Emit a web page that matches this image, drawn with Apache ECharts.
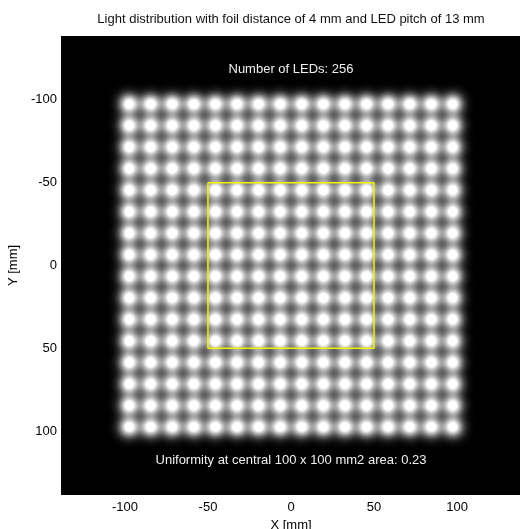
<!DOCTYPE html>
<html>
<head>
<meta charset="utf-8">
<script src="https://cdn.jsdelivr.net/npm/echarts@6/dist/echarts.min.js"></script>
<style>
  html, body { margin: 0; padding: 0; background: #fff; }
  #chart { width: 520px; height: 529px; }
</style>
</head>
<body>
<div id="chart"></div>
<script>
// LED grid: 16 x 16, pitch 13 mm
const ledX = [-97.5, -84.5, -71.5, -58.5, -45.5, -32.5, -19.5, -6.5, 6.5, 19.5, 32.5, 45.5, 58.5, 71.5, 84.5, 97.5];
const ledY = [-97.5, -84.5, -71.5, -58.5, -45.5, -32.5, -19.5, -6.5, 6.5, 19.5, 32.5, 45.5, 58.5, 71.5, 84.5, 97.5];

// central evaluation area outline
const boxX = [-50, 50, 50, -50, -50];
const boxY = [-50, -50, 50, 50, -50];

const tickValues = [-100, -50, 0, 50, 100];
const foilDistance = 4;
const ledPitch = 13;
const uniformity = 0.23;

const FONT = 'Liberation Sans, Arial, sans-serif';

const ledPoints = [];
ledY.forEach(y => {
    ledX.forEach(x => {
        ledPoints.push([x, y]);
    });
});

const boxPoints = boxX.map((x, i) => [x, boxY[i]]);

// soft glow for each LED (gaussian falloff, lightly clipped at the core)
function glowStops(n, radius, sigma, peak) {
    const stops = [];
    for (let i = 0; i <= n; i++) {
        const t = i / n;
        const r = t * radius;
        const a = Math.min(1, peak * Math.exp(-r * r / (2 * sigma * sigma)));
        stops.push({ offset: t, color: 'rgba(255,255,255,' + a.toFixed(3) + ')' });
    }
    return stops;
}

const chart = echarts.init(document.getElementById('chart'));

const option = {
    animation: false,
    backgroundColor: '#fff',
    grid: {
        left: 61,
        top: 36,
        width: 460,
        height: 459,
        show: true,
        backgroundColor: '#000',
        borderWidth: 0,
        outerBoundsMode: 'none',
        containLabel: false
    },
    xAxis: {
        type: 'value',
        min: -138.5,
        max: 138.5,
        name: 'X [mm]',
        nameLocation: 'middle',
        nameGap: 22,
        nameTextStyle: { color: '#000', fontSize: 13, fontFamily: FONT },
        axisLine: { show: false },
        axisTick: { show: false },
        splitLine: { show: false },
        axisLabel: {
            customValues: tickValues,
            color: '#000',
            fontSize: 13,
            fontFamily: FONT,
            margin: 6
        }
    },
    yAxis: {
        type: 'value',
        inverse: true,
        min: -138.5,
        max: 138.5,
        name: 'Y [mm]',
        nameLocation: 'middle',
        nameGap: 37,
        nameTextStyle: { color: '#000', fontSize: 13, fontFamily: FONT },
        axisLine: { show: false },
        axisTick: { show: false },
        splitLine: { show: false },
        axisLabel: {
            customValues: tickValues,
            color: '#000',
            fontSize: 13,
            fontFamily: FONT,
            margin: 4
        }
    },
    graphic: [
        {
            type: 'text',
            x: 291,
            y: 19,
            style: {
                text: 'Light distribution with foil distance of ' + foilDistance +
                    ' mm and LED pitch of ' + ledPitch + ' mm',
                fill: '#111',
                font: '13px ' + FONT,
                textAlign: 'center',
                textVerticalAlign: 'middle'
            }
        }
    ],
    series: [
        {
            type: 'scatter',
            data: ledPoints,
            symbol: 'circle',
            symbolSize: 44,
            silent: true,
            blendMode: 'lighter',
            itemStyle: {
                opacity: 1,
                color: {
                    type: 'radial',
                    x: 0.5,
                    y: 0.5,
                    r: 0.5,
                    colorStops: glowStops(48, 22, 6.8, 1.15)
                }
            },
            emphasis: { disabled: true }
        },
        {
            type: 'line',
            data: boxPoints,
            symbol: 'none',
            silent: true,
            z: 5,
            lineStyle: { color: '#f2f200', width: 1.5 },
            markPoint: {
                symbol: 'circle',
                symbolSize: 0,
                silent: true,
                label: {
                    show: true,
                    color: '#f0f0f0',
                    fontSize: 13,
                    fontFamily: FONT
                },
                data: [
                    { coord: [0, -118.5], value: 'Number of LEDs: ' + ledPoints.length },
                    { coord: [0, 117.5], value: 'Uniformity at central 100 x 100 mm2 area: ' + uniformity }
                ]
            }
        }
    ]
};

chart.setOption(option);
</script>
</body>
</html>
